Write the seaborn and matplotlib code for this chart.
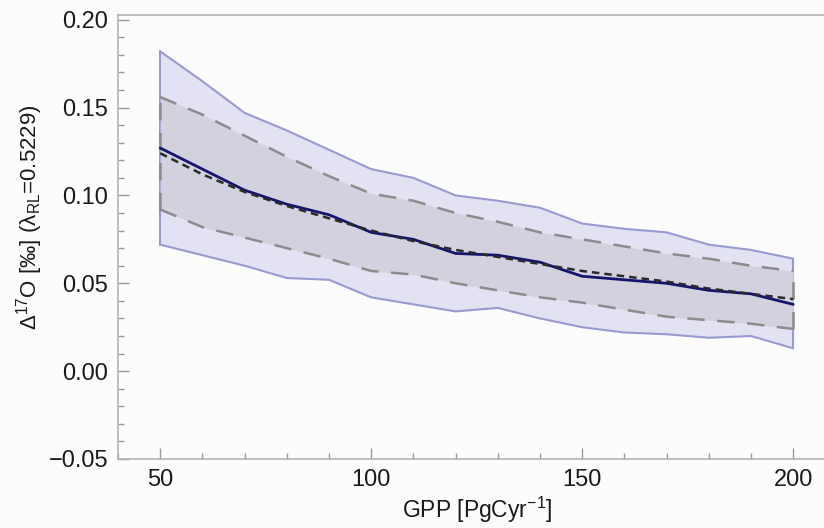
import matplotlib
matplotlib.use("Agg")
import matplotlib.pyplot as plt
from matplotlib.ticker import MultipleLocator
import seaborn as sns
import pandas as pd

# ---- data ----
gpp = [50, 60, 70, 80, 90, 100, 110, 120, 130, 140, 150, 160, 170, 180, 190, 200]
outer_upper = [0.182, 0.165, 0.147, 0.137, 0.126, 0.115, 0.110, 0.100, 0.097, 0.093,
               0.084, 0.081, 0.079, 0.072, 0.069, 0.064]
outer_lower = [0.072, 0.066, 0.060, 0.053, 0.052, 0.042, 0.038, 0.034, 0.036, 0.030,
               0.025, 0.022, 0.021, 0.019, 0.020, 0.013]
inner_upper = [0.156, 0.146, 0.134, 0.122, 0.111, 0.101, 0.097, 0.090, 0.085, 0.079,
               0.075, 0.071, 0.067, 0.064, 0.060, 0.057]
inner_lower = [0.092, 0.082, 0.076, 0.070, 0.064, 0.057, 0.055, 0.050, 0.046, 0.042,
               0.039, 0.035, 0.031, 0.029, 0.027, 0.024]
mean_line = [0.127, 0.115, 0.103, 0.095, 0.089, 0.079, 0.075, 0.067, 0.066, 0.062,
             0.054, 0.052, 0.050, 0.046, 0.044, 0.038]
fit_line = [0.124, 0.112, 0.102, 0.094, 0.087, 0.080, 0.074, 0.069, 0.065, 0.061,
            0.057, 0.054, 0.051, 0.047, 0.044, 0.041]
ytick_values = [-0.05, 0.0, 0.05, 0.10, 0.15, 0.20]
ytick_labels = ["\u22120.05", "0.00", "0.05", "0.10", "0.15", "0.20"]

df = pd.DataFrame({"gpp": gpp, "mean": mean_line, "fit": fit_line})

sns.set_style("ticks")
plt.rcParams["font.family"] = ["Liberation Sans", "DejaVu Sans"]
plt.rcParams["mathtext.fontset"] = "custom"
plt.rcParams["mathtext.rm"] = "Liberation Sans"
plt.rcParams["mathtext.it"] = "Liberation Sans:italic"
plt.rcParams["mathtext.bf"] = "Liberation Sans:bold"

bg = "#fcfcfc"
fig = plt.figure(figsize=(8.24, 5.28), dpi=100, facecolor=bg)
ax = fig.add_axes([118 / 824, 1 - 459 / 528, 1 - 118 / 824, (459 - 15) / 528])
ax.set_facecolor(bg)

edge = "#9a9ad2"
# outer band
ax.fill_between(gpp, outer_lower, outer_upper, color="#e2e2f3", zorder=1, linewidth=0)
ax.plot(gpp, outer_upper, color=edge, lw=1.5, zorder=2)
ax.plot(gpp, outer_lower, color=edge, lw=1.5, zorder=2)
ax.plot([gpp[0], gpp[0]], [outer_lower[0], outer_upper[0]], color=edge, lw=1.5, zorder=2)
ax.plot([gpp[-1], gpp[-1]], [outer_lower[-1], outer_upper[-1]], color=edge, lw=1.5, zorder=2)

# inner band
ax.fill_between(gpp, inner_lower, inner_upper, color="#d3d1de", zorder=3, linewidth=0)
dash_kw = dict(color="#8c8c8c", lw=1.8, dashes=(7, 5), zorder=4)
ax.plot(gpp, inner_upper, **dash_kw)
ax.plot(gpp, inner_lower, **dash_kw)
ax.plot([gpp[0], gpp[0]], [inner_lower[0], inner_upper[0]], **dash_kw)
ax.plot([gpp[-1], gpp[-1]], [inner_lower[-1], inner_upper[-1]], **dash_kw)

# central lines
sns.lineplot(data=df, x="gpp", y="mean", ax=ax, color="#15156e", lw=2.0, zorder=5)
sns.lineplot(data=df, x="gpp", y="fit", ax=ax, color="#2a2a2a", lw=1.8, zorder=6)
ax.lines[-1].set_dashes((3, 2))

ax.set_xlim(40, 207.3)
ax.set_ylim(-0.05, 0.2027)

ax.xaxis.set_major_locator(MultipleLocator(50))
ax.xaxis.set_minor_locator(MultipleLocator(10))
ax.yaxis.set_minor_locator(MultipleLocator(0.01))
ax.set_yticks(ytick_values)
ax.set_yticklabels(ytick_labels)

ax.tick_params(axis="both", which="major", direction="in", length=8, width=1,
               color="#9a9a9a", labelsize=17, labelcolor="#1a1a1a", pad=7)
ax.tick_params(axis="both", which="minor", direction="in", length=4, width=1,
               color="#9a9a9a")

for side in ["left", "bottom", "top"]:
    ax.spines[side].set_color("#b4b4b4")
    ax.spines[side].set_linewidth(1.2)
ax.spines["right"].set_visible(False)

ax.set_xlabel("GPP [PgCyr$^{-1}$]", fontsize=16.5, color="#1a1a1a")
ax.xaxis.set_label_coords((477 - 118) / 706, -(495 - 459) / 444)
ax.set_ylabel("\u0394$^{17}$O [‰] (\u03bb$_{\\rm RL}$=0.5229)", fontsize=16,
              color="#1a1a1a")
ax.yaxis.set_label_coords((45 - 118) / 706, (459 - 217) / 444)

fig.savefig("out.png", dpi=100, facecolor=bg)
